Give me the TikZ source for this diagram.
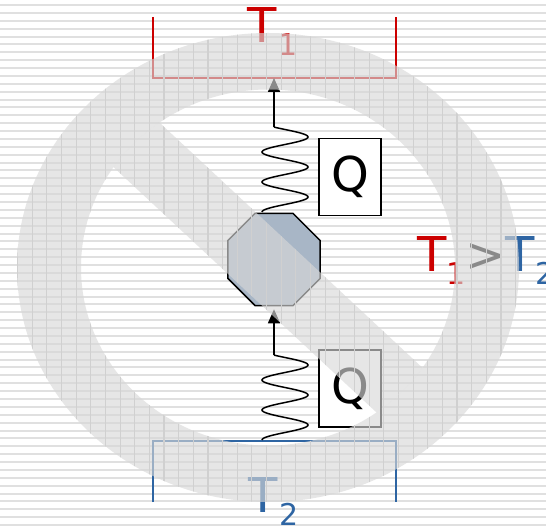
\documentclass[tikz,border=0pt]{standalone}
\usepackage{fontspec}
\setmainfont{DejaVu Sans}
\usetikzlibrary{arrows.meta,shapes.geometric}
\definecolor{hotred}{RGB}{204,0,0}
\definecolor{coldblue}{RGB}{46,101,163}
\definecolor{enginefill}{RGB}{168,182,198}
\definecolor{stripegray}{RGB}{224,224,224}
\definecolor{signgray}{RGB}{216,216,216}
\definecolor{gridgray}{RGB}{208,208,208}
\newcommand{\subidx}[1]{\raisebox{-13pt}{\fontsize{30}{30}\selectfont #1}}
\begin{document}
\begin{tikzpicture}[x=1pt,y=-1pt,
  big/.style={font=\fontsize{48}{48}\selectfont, inner sep=0pt},
  spring/.style={black, line width=1.5pt},
  arr/.style={black, line width=1.5pt, -{Triangle[width=12pt,length=14pt]}},
  qbox/.style={draw, fill=white, line width=1.5pt, minimum width=62pt, minimum height=77pt, inner sep=0pt, font=\fontsize{48}{48}\selectfont},
  engine/.style={regular polygon, regular polygon sides=8, minimum size=99.6pt, inner sep=0pt, draw, line width=1.5pt, fill=enginefill},
  gridline/.style={gridgray, line width=1.1pt}]
\useasboundingbox (0,0) rectangle (546,526);
\fill[white] (0,0) rectangle (546,526);
% Background stripes
\foreach \k in {0,...,66}
  \draw[stripegray, line width=2pt] (0,{5+7.88*\k}) -- (546,{5+7.88*\k});
% Hot reservoir T1
\draw[hotred, line width=1.7pt] (153,17) -- (153,78) -- (396,78) -- (396,17);
\coordinate (hotbase) at (274,78);
\node[big, text=hotred, anchor=base west] (hotlabel) at (247,43) {T\kern2pt\subidx{1}};
% Cold reservoir T2
\draw[coldblue, line width=1.7pt] (153,502) -- (153,441) -- (396,441) -- (396,502);
\coordinate (coldtop) at (274,441);
\node[big, text=coldblue, anchor=base west] (coldlabel) at (248,512) {T\kern2pt\subidx{2}};
% Engine
\node[engine] (engine) at (274,259.5) {};
% Springs
\coordinate (hotfoot) at (274,127.1);
\coordinate (coldfoot) at (274,355.1);
\draw[spring] plot[domain=127.1:212, samples=120] ({285+23*sin(12*(\x-129.5))},\x);
\draw[spring] plot[domain=355.1:440, samples=120] ({285+23*sin(12*(\x-357.5))},\x);
% Heat arrows
\draw[arr] (hotfoot) -- (hotbase);
\draw[arr, shorten >=3pt] (coldfoot) -- (engine.south);
% Heat boxes
\node[qbox] (qhot) at (350,177) {Q};
\node[qbox] (qcold) at (350,388.5) {Q};
% Relation
\node[big, anchor=base west] (relation) at (417,272) {{\color{hotred}T\subidx{1}}>{\color{coldblue}T\subidx{2}}};
% No-sign overlay
\def\cx{268}
\def\cy{267.5}
\fill[signgray, opacity=0.64, even odd rule] (\cx,\cy) ellipse [x radius=251pt, y radius=234.5pt]
  (\cx,\cy) ellipse [x radius=187pt, y radius=178pt];
\begin{scope}
  \clip (\cx,\cy) ellipse [x radius=187pt, y radius=178pt];
  \fill[signgray, opacity=0.64, rotate around={-43:(\cx,\cy)}] ({\cx-260},{\cy-32}) rectangle ({\cx+260},{\cy+32});
\end{scope}
% Grid inside the sign
\begin{scope}[even odd rule]
  \clip (\cx,\cy) ellipse [x radius=251pt, y radius=234.5pt]
    (\cx,\cy) ellipse [x radius=187pt, y radius=178pt];
  \foreach \k in {0,...,36}
    \draw[gridline] ({17.5+14.65*\k},0) -- ({17.5+14.65*\k},526);
\end{scope}
\begin{scope}
  \clip (\cx,\cy) ellipse [x radius=187pt, y radius=178pt];
  \begin{scope}[rotate around={-43:(\cx,\cy)}]
    \clip ({\cx-260},{\cy-32}) rectangle ({\cx+260},{\cy+32});
    \begin{scope}[rotate around={43:(\cx,\cy)}]
      \foreach \k in {0,...,36}
        \draw[gridline] ({17.5+14.65*\k},0) -- ({17.5+14.65*\k},526);
    \end{scope}
  \end{scope}
\end{scope}
\end{tikzpicture}
\end{document}
